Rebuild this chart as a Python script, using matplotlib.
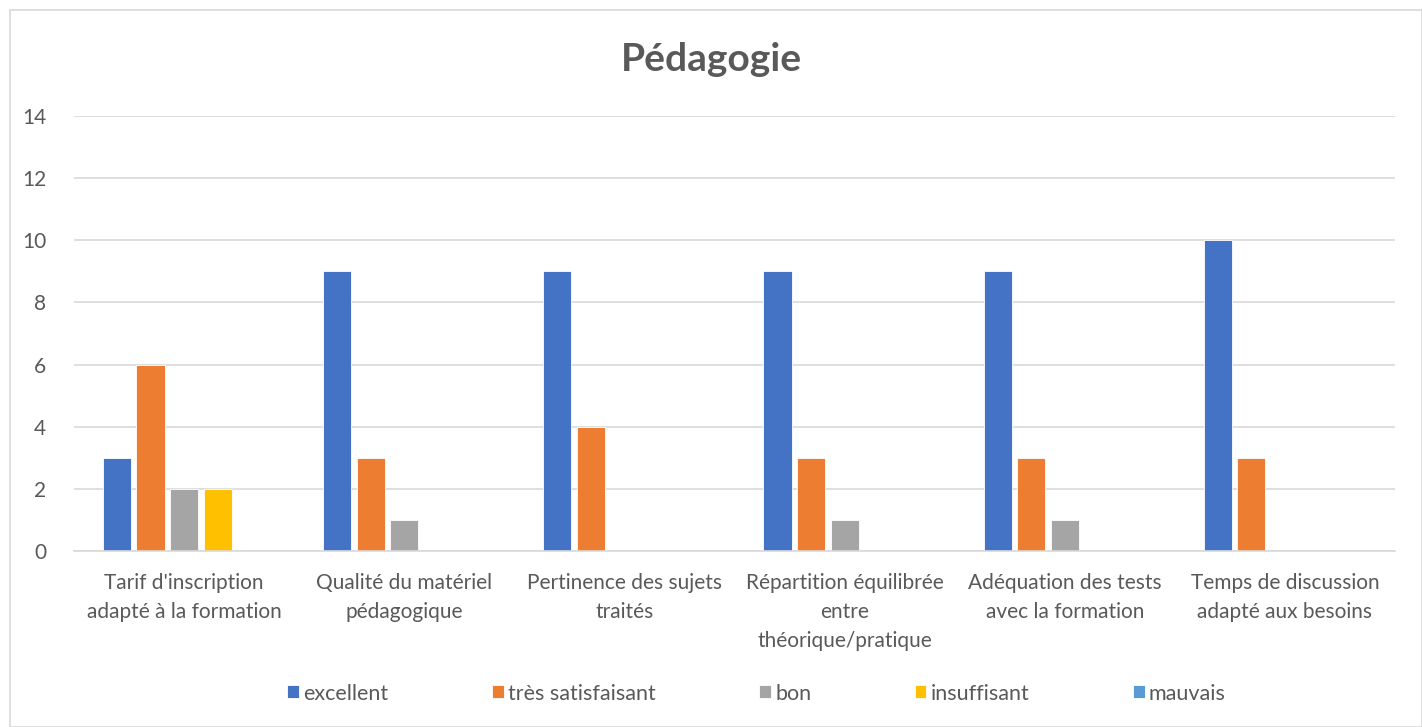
import numpy as np
import matplotlib.pyplot as plt
from matplotlib.patches import Rectangle

plt.rcParams['font.family'] = ['Lato', 'DejaVu Sans']

categories = [
    "Tarif d'inscription\nadapté à la formation",
    "Qualité du matériel\npédagogique",
    "Pertinence des sujets\ntraités",
    "Répartition équilibrée\nentre\nthéorique/pratique",
    "Adéquation des tests\navec la formation",
    "Temps de discussion\nadapté aux besoins",
]
series_names = ["excellent", "très satisfaisant", "bon", "insuffisant", "mauvais"]
excellent = [3, 9, 9, 9, 9, 10]
tres_satisfaisant = [6, 3, 4, 3, 3, 3]
bon = [2, 1, 0, 1, 1, 0]
insuffisant = [2, 0, 0, 0, 0, 0]
mauvais = [0, 0, 0, 0, 0, 0]
colors = ["#4472C4", "#ED7D31", "#A5A5A5", "#FFC000", "#5B9BD5"]

text_color = "#595959"

fig = plt.figure(figsize=(14.22, 7.27), dpi=100)
ax = fig.add_axes([0.0521, 0.2421, 0.981 - 0.0521, 0.8404 - 0.2421])

# outer chart border
fig.patches.append(Rectangle((10 / 1422, 0), 1 - 10 / 1422, 1 - 10 / 727,
                             transform=fig.transFigure, fill=False,
                             edgecolor="#D9D9D9", linewidth=1.2))

x = np.arange(len(categories))
slot = 0.1525
all_series = [excellent, tres_satisfaisant, bon, insuffisant, mauvais]
for i, (name, vals) in enumerate(zip(series_names, all_series)):
    offset = (i - 2) * slot
    ax.bar(x + offset, vals, width=0.128, color=colors[i], label=name,
           edgecolor="white", linewidth=0.6, zorder=2)

ax.set_xlim(-0.5, len(categories) - 0.5)
ax.set_ylim(0, 14)
ax.set_yticks(range(0, 15, 2))
ax.grid(axis="y", color="#D9D9D9", linewidth=1.2, zorder=0)
ax.set_axisbelow(True)
ax.set_xticks(x)
ax.set_xticklabels(categories, fontsize=15, color=text_color, linespacing=1.55)
ax.tick_params(axis="x", length=0, pad=16)
ax.tick_params(axis="y", length=0, pad=20, labelsize=15, labelcolor=text_color)
for s in ["top", "right", "left"]:
    ax.spines[s].set_visible(False)
ax.spines["bottom"].set_color("#D9D9D9")
ax.spines["bottom"].set_linewidth(1.2)
ax.spines["bottom"].set_zorder(3)

fig.text(0.5, 0.918, "Pédagogie", ha="center", va="center", fontsize=28,
         fontweight="bold", color=text_color)

leg = fig.legend(loc="center", bbox_to_anchor=(0.532, 0.046), ncol=5,
                 frameon=False, fontsize=15.5, handlelength=0.55, handleheight=0.55,
                 handletextpad=0.2, columnspacing=4.8)
for t in leg.get_texts():
    t.set_color(text_color)

fig.savefig("out.png", dpi=100)
